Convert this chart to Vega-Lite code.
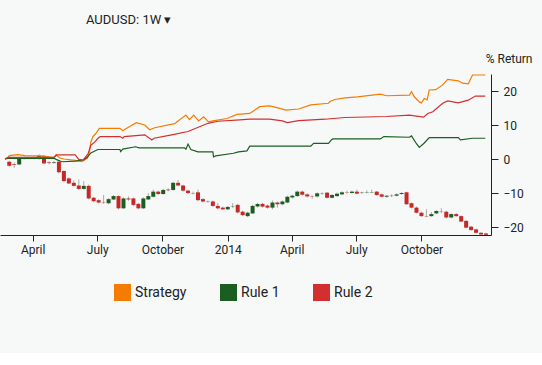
{
  "$schema": "https://vega.github.io/schema/vega-lite/v6.json",
  "width": 491,
  "height": 161,
  "autosize": {"type": "none"},
  "padding": {"left": 0, "top": 74, "right": 51, "bottom": 118},
  "background": "#f7f9f9",
  "title": {"text": "AUDUSD: 1W ▾", "anchor": "start", "frame": "group", "dx": 86, "offset": 0, "dy": -19, "fontSize": 13, "fontWeight": "normal", "color": "#222222", "font": "Roboto", "baseline": "middle"},
  "datasets": {
    "candles": [
      {"date": "2013-02-27", "open": -0.8, "close": -2.0, "high": -0.5, "low": -2.3},
      {"date": "2013-03-06", "open": -1.5, "close": -1.7, "high": -1.0, "low": -2.6},
      {"date": "2013-03-13", "open": -1.6, "close": 0.2, "high": 0.4, "low": -1.8},
      {"date": "2013-03-20", "open": 0.2, "close": 0.1, "high": 0.5, "low": -0.2},
      {"date": "2013-03-27", "open": 0.1, "close": 0.3, "high": 0.6, "low": -0.1},
      {"date": "2013-04-03", "open": 0.3, "close": 0.2, "high": 0.6, "low": -0.1},
      {"date": "2013-04-10", "open": 0.0, "close": 0.9, "high": 1.4, "low": -0.2},
      {"date": "2013-04-17", "open": 0.9, "close": -1.3, "high": 1.2, "low": -1.5},
      {"date": "2013-04-24", "open": -1.0, "close": -1.2, "high": -0.7, "low": -1.6},
      {"date": "2013-05-01", "open": -1.2, "close": -1.0, "high": -0.6, "low": -1.4},
      {"date": "2013-05-08", "open": -0.8, "close": -3.9, "high": -0.5, "low": -4.2},
      {"date": "2013-05-15", "open": -3.5, "close": -6.5, "high": -3.3, "low": -6.8},
      {"date": "2013-05-22", "open": -5.7, "close": -7.2, "high": -5.4, "low": -7.4},
      {"date": "2013-05-29", "open": -7.0, "close": -7.9, "high": -6.3, "low": -8.2},
      {"date": "2013-06-05", "open": -7.8, "close": -8.8, "high": -6.0, "low": -9.1},
      {"date": "2013-06-12", "open": -8.8, "close": -7.9, "high": -6.5, "low": -9.0},
      {"date": "2013-06-19", "open": -7.9, "close": -11.6, "high": -7.5, "low": -11.9},
      {"date": "2013-06-26", "open": -11.4, "close": -12.4, "high": -11.1, "low": -12.7},
      {"date": "2013-07-03", "open": -12.1, "close": -12.8, "high": -11.8, "low": -13.1},
      {"date": "2013-07-10", "open": -12.8, "close": -12.9, "high": -10.6, "low": -13.2},
      {"date": "2013-07-17", "open": -13.0, "close": -11.8, "high": -11.5, "low": -13.3},
      {"date": "2013-07-24", "open": -11.9, "close": -10.9, "high": -10.6, "low": -12.1},
      {"date": "2013-07-31", "open": -10.9, "close": -14.5, "high": -10.7, "low": -14.8},
      {"date": "2013-08-07", "open": -14.5, "close": -11.6, "high": -11.3, "low": -14.7},
      {"date": "2013-08-14", "open": -11.6, "close": -11.9, "high": -11.0, "low": -12.3},
      {"date": "2013-08-21", "open": -11.6, "close": -13.5, "high": -11.3, "low": -13.8},
      {"date": "2013-08-28", "open": -13.2, "close": -14.5, "high": -12.9, "low": -14.8},
      {"date": "2013-09-04", "open": -14.5, "close": -11.6, "high": -11.3, "low": -14.7},
      {"date": "2013-09-11", "open": -11.9, "close": -10.9, "high": -10.0, "low": -12.1},
      {"date": "2013-09-18", "open": -11.1, "close": -9.6, "high": -9.0, "low": -11.3},
      {"date": "2013-09-25", "open": -9.6, "close": -10.3, "high": -9.3, "low": -10.6},
      {"date": "2013-10-02", "open": -10.3, "close": -9.1, "high": -8.8, "low": -10.5},
      {"date": "2013-10-09", "open": -9.0, "close": -9.2, "high": -8.6, "low": -9.5},
      {"date": "2013-10-16", "open": -9.1, "close": -7.0, "high": -6.8, "low": -9.3},
      {"date": "2013-10-23", "open": -7.0, "close": -7.8, "high": -6.2, "low": -8.0},
      {"date": "2013-10-30", "open": -7.8, "close": -9.3, "high": -7.6, "low": -9.6},
      {"date": "2013-11-06", "open": -9.3, "close": -10.0, "high": -9.0, "low": -10.3},
      {"date": "2013-11-13", "open": -10.0, "close": -10.1, "high": -9.6, "low": -10.4},
      {"date": "2013-11-20", "open": -9.8, "close": -12.1, "high": -9.0, "low": -12.4},
      {"date": "2013-11-27", "open": -11.8, "close": -12.5, "high": -11.5, "low": -12.8},
      {"date": "2013-12-04", "open": -12.5, "close": -12.6, "high": -12.2, "low": -12.9},
      {"date": "2013-12-11", "open": -12.5, "close": -13.8, "high": -12.2, "low": -14.1},
      {"date": "2013-12-18", "open": -13.8, "close": -14.5, "high": -13.0, "low": -14.8},
      {"date": "2013-12-25", "open": -14.3, "close": -14.8, "high": -14.0, "low": -15.0},
      {"date": "2014-01-01", "open": -14.8, "close": -14.1, "high": -13.8, "low": -15.0},
      {"date": "2014-01-08", "open": -14.1, "close": -14.0, "high": -13.0, "low": -14.4},
      {"date": "2014-01-15", "open": -13.5, "close": -15.7, "high": -13.2, "low": -16.0},
      {"date": "2014-01-22", "open": -15.5, "close": -16.5, "high": -15.2, "low": -16.8},
      {"date": "2014-01-29", "open": -16.8, "close": -15.8, "high": -15.5, "low": -17.1},
      {"date": "2014-02-05", "open": -16.0, "close": -13.8, "high": -13.5, "low": -16.2},
      {"date": "2014-02-12", "open": -14.0, "close": -13.2, "high": -12.9, "low": -14.3},
      {"date": "2014-02-19", "open": -13.2, "close": -14.0, "high": -12.9, "low": -14.3},
      {"date": "2014-02-26", "open": -13.7, "close": -14.3, "high": -13.4, "low": -14.6},
      {"date": "2014-03-05", "open": -14.3, "close": -12.8, "high": -12.2, "low": -14.8},
      {"date": "2014-03-12", "open": -12.8, "close": -13.3, "high": -12.5, "low": -14.3},
      {"date": "2014-03-19", "open": -13.3, "close": -12.5, "high": -12.2, "low": -13.6},
      {"date": "2014-03-26", "open": -12.8, "close": -11.1, "high": -10.8, "low": -13.0},
      {"date": "2014-04-02", "open": -11.3, "close": -10.8, "high": -10.5, "low": -11.6},
      {"date": "2014-04-09", "open": -10.9, "close": -9.6, "high": -9.3, "low": -11.1},
      {"date": "2014-04-16", "open": -9.6, "close": -10.5, "high": -9.3, "low": -10.8},
      {"date": "2014-04-23", "open": -10.4, "close": -11.0, "high": -10.1, "low": -11.3},
      {"date": "2014-04-30", "open": -11.0, "close": -11.1, "high": -10.7, "low": -11.7},
      {"date": "2014-05-07", "open": -11.0, "close": -10.1, "high": -9.8, "low": -11.3},
      {"date": "2014-05-14", "open": -10.1, "close": -10.2, "high": -9.8, "low": -10.5},
      {"date": "2014-05-21", "open": -9.9, "close": -11.4, "high": -9.7, "low": -11.6},
      {"date": "2014-05-28", "open": -11.4, "close": -10.6, "high": -10.3, "low": -11.6},
      {"date": "2014-06-04", "open": -10.9, "close": -10.2, "high": -9.9, "low": -11.1},
      {"date": "2014-06-11", "open": -10.4, "close": -9.8, "high": -9.5, "low": -10.6},
      {"date": "2014-06-18", "open": -9.8, "close": -9.9, "high": -9.3, "low": -10.2},
      {"date": "2014-06-25", "open": -10.0, "close": -9.6, "high": -9.3, "low": -10.2},
      {"date": "2014-07-02", "open": -9.6, "close": -10.2, "high": -9.0, "low": -10.4},
      {"date": "2014-07-09", "open": -10.0, "close": -9.9, "high": -9.6, "low": -10.3},
      {"date": "2014-07-16", "open": -9.9, "close": -9.8, "high": -9.2, "low": -10.1},
      {"date": "2014-07-23", "open": -9.8, "close": -9.7, "high": -9.0, "low": -10.0},
      {"date": "2014-07-30", "open": -9.6, "close": -10.6, "high": -9.4, "low": -10.8},
      {"date": "2014-08-06", "open": -10.4, "close": -11.1, "high": -10.2, "low": -11.3},
      {"date": "2014-08-13", "open": -11.1, "close": -10.8, "high": -10.6, "low": -11.4},
      {"date": "2014-08-20", "open": -10.8, "close": -10.9, "high": -10.4, "low": -11.2},
      {"date": "2014-08-27", "open": -10.8, "close": -10.4, "high": -10.1, "low": -11.0},
      {"date": "2014-09-03", "open": -10.3, "close": -10.0, "high": -9.8, "low": -10.5},
      {"date": "2014-09-10", "open": -9.8, "close": -13.3, "high": -9.6, "low": -13.5},
      {"date": "2014-09-17", "open": -13.0, "close": -14.3, "high": -12.8, "low": -14.5},
      {"date": "2014-09-24", "open": -14.3, "close": -15.8, "high": -14.0, "low": -16.0},
      {"date": "2014-10-01", "open": -15.8, "close": -16.8, "high": -15.5, "low": -17.0},
      {"date": "2014-10-08", "open": -16.8, "close": -16.9, "high": -14.8, "low": -17.1},
      {"date": "2014-10-15", "open": -16.8, "close": -16.2, "high": -15.6, "low": -17.0},
      {"date": "2014-10-22", "open": -16.0, "close": -15.3, "high": -15.0, "low": -16.2},
      {"date": "2014-10-29", "open": -15.5, "close": -15.6, "high": -14.5, "low": -15.9},
      {"date": "2014-11-05", "open": -15.5, "close": -17.2, "high": -15.2, "low": -17.5},
      {"date": "2014-11-12", "open": -17.2, "close": -16.2, "high": -16.0, "low": -17.4},
      {"date": "2014-11-19", "open": -16.2, "close": -16.8, "high": -15.9, "low": -17.0},
      {"date": "2014-11-26", "open": -16.8, "close": -18.4, "high": -16.6, "low": -18.6},
      {"date": "2014-12-03", "open": -18.2, "close": -20.2, "high": -18.0, "low": -20.4},
      {"date": "2014-12-10", "open": -19.9, "close": -20.9, "high": -19.7, "low": -21.1},
      {"date": "2014-12-17", "open": -20.7, "close": -21.7, "high": -20.5, "low": -21.9},
      {"date": "2014-12-24", "open": -21.7, "close": -22.2, "high": -21.5, "low": -22.3},
      {"date": "2014-12-31", "open": -21.9, "close": -22.3, "high": -21.7, "low": -22.35}
    ],
    "lines": [
      {"date": "2013-02-21", "series": "Strategy", "value": 0.0},
      {"date": "2013-02-25", "series": "Strategy", "value": 0.2},
      {"date": "2013-02-27", "series": "Strategy", "value": 1.0},
      {"date": "2013-03-11", "series": "Strategy", "value": 1.3},
      {"date": "2013-03-21", "series": "Strategy", "value": 1.0},
      {"date": "2013-04-13", "series": "Strategy", "value": 0.9},
      {"date": "2013-05-01", "series": "Strategy", "value": 0.4},
      {"date": "2013-05-04", "series": "Strategy", "value": 1.3},
      {"date": "2013-05-09", "series": "Strategy", "value": 0.3},
      {"date": "2013-05-15", "series": "Strategy", "value": 0.0},
      {"date": "2013-05-31", "series": "Strategy", "value": -0.4},
      {"date": "2013-06-09", "series": "Strategy", "value": -0.8},
      {"date": "2013-06-11", "series": "Strategy", "value": -0.6},
      {"date": "2013-06-17", "series": "Strategy", "value": 0.2},
      {"date": "2013-06-20", "series": "Strategy", "value": 2.0},
      {"date": "2013-06-22", "series": "Strategy", "value": 5.0},
      {"date": "2013-06-25", "series": "Strategy", "value": 6.6},
      {"date": "2013-06-29", "series": "Strategy", "value": 7.5},
      {"date": "2013-07-04", "series": "Strategy", "value": 9.0},
      {"date": "2013-08-02", "series": "Strategy", "value": 9.0},
      {"date": "2013-08-06", "series": "Strategy", "value": 8.3},
      {"date": "2013-08-08", "series": "Strategy", "value": 8.6},
      {"date": "2013-08-25", "series": "Strategy", "value": 10.7},
      {"date": "2013-09-06", "series": "Strategy", "value": 10.0},
      {"date": "2013-09-13", "series": "Strategy", "value": 8.6},
      {"date": "2013-09-20", "series": "Strategy", "value": 9.2},
      {"date": "2013-10-18", "series": "Strategy", "value": 10.4},
      {"date": "2013-11-03", "series": "Strategy", "value": 12.9},
      {"date": "2013-11-08", "series": "Strategy", "value": 11.6},
      {"date": "2013-11-14", "series": "Strategy", "value": 12.9},
      {"date": "2013-11-21", "series": "Strategy", "value": 11.2},
      {"date": "2013-11-28", "series": "Strategy", "value": 12.4},
      {"date": "2013-12-05", "series": "Strategy", "value": 10.9},
      {"date": "2013-12-11", "series": "Strategy", "value": 11.2},
      {"date": "2013-12-31", "series": "Strategy", "value": 11.9},
      {"date": "2014-01-14", "series": "Strategy", "value": 13.1},
      {"date": "2014-02-01", "series": "Strategy", "value": 13.4},
      {"date": "2014-02-15", "series": "Strategy", "value": 15.4},
      {"date": "2014-03-01", "series": "Strategy", "value": 15.6},
      {"date": "2014-03-10", "series": "Strategy", "value": 15.2},
      {"date": "2014-03-24", "series": "Strategy", "value": 14.4},
      {"date": "2014-04-11", "series": "Strategy", "value": 14.7},
      {"date": "2014-04-28", "series": "Strategy", "value": 15.9},
      {"date": "2014-05-23", "series": "Strategy", "value": 16.4},
      {"date": "2014-05-25", "series": "Strategy", "value": 16.9},
      {"date": "2014-06-01", "series": "Strategy", "value": 17.5},
      {"date": "2014-06-15", "series": "Strategy", "value": 18.0},
      {"date": "2014-07-03", "series": "Strategy", "value": 18.3},
      {"date": "2014-08-04", "series": "Strategy", "value": 19.1},
      {"date": "2014-08-13", "series": "Strategy", "value": 18.6},
      {"date": "2014-09-14", "series": "Strategy", "value": 18.8},
      {"date": "2014-09-17", "series": "Strategy", "value": 19.8},
      {"date": "2014-09-21", "series": "Strategy", "value": 18.3},
      {"date": "2014-09-28", "series": "Strategy", "value": 16.8},
      {"date": "2014-10-01", "series": "Strategy", "value": 16.5},
      {"date": "2014-10-05", "series": "Strategy", "value": 17.8},
      {"date": "2014-10-09", "series": "Strategy", "value": 17.4},
      {"date": "2014-10-12", "series": "Strategy", "value": 20.3},
      {"date": "2014-10-21", "series": "Strategy", "value": 20.4},
      {"date": "2014-10-31", "series": "Strategy", "value": 21.8},
      {"date": "2014-11-07", "series": "Strategy", "value": 23.4},
      {"date": "2014-11-22", "series": "Strategy", "value": 23.0},
      {"date": "2014-11-28", "series": "Strategy", "value": 22.3},
      {"date": "2014-12-06", "series": "Strategy", "value": 22.1},
      {"date": "2014-12-12", "series": "Strategy", "value": 24.7},
      {"date": "2014-12-30", "series": "Strategy", "value": 24.7},
      {"date": "2013-02-21", "series": "Rule 1", "value": 0.0},
      {"date": "2013-02-25", "series": "Rule 1", "value": 0.2},
      {"date": "2013-05-01", "series": "Rule 1", "value": 0.2},
      {"date": "2013-05-04", "series": "Rule 1", "value": -0.1},
      {"date": "2013-05-12", "series": "Rule 1", "value": -0.8},
      {"date": "2013-05-31", "series": "Rule 1", "value": -0.6},
      {"date": "2013-06-11", "series": "Rule 1", "value": -0.3},
      {"date": "2013-06-17", "series": "Rule 1", "value": 0.5},
      {"date": "2013-06-22", "series": "Rule 1", "value": 1.8},
      {"date": "2013-07-02", "series": "Rule 1", "value": 2.8},
      {"date": "2013-08-02", "series": "Rule 1", "value": 2.8},
      {"date": "2013-08-03", "series": "Rule 1", "value": 2.2},
      {"date": "2013-08-06", "series": "Rule 1", "value": 2.9},
      {"date": "2013-08-24", "series": "Rule 1", "value": 3.6},
      {"date": "2013-08-29", "series": "Rule 1", "value": 3.3},
      {"date": "2013-11-01", "series": "Rule 1", "value": 3.3},
      {"date": "2013-11-03", "series": "Rule 1", "value": 2.9},
      {"date": "2013-11-06", "series": "Rule 1", "value": 4.4},
      {"date": "2013-11-10", "series": "Rule 1", "value": 2.8},
      {"date": "2013-11-20", "series": "Rule 1", "value": 2.1},
      {"date": "2013-12-11", "series": "Rule 1", "value": 2.1},
      {"date": "2013-12-12", "series": "Rule 1", "value": 0.6},
      {"date": "2013-12-15", "series": "Rule 1", "value": 0.9},
      {"date": "2014-01-09", "series": "Rule 1", "value": 1.7},
      {"date": "2014-01-16", "series": "Rule 1", "value": 2.1},
      {"date": "2014-01-28", "series": "Rule 1", "value": 2.4},
      {"date": "2014-02-01", "series": "Rule 1", "value": 3.8},
      {"date": "2014-04-28", "series": "Rule 1", "value": 3.8},
      {"date": "2014-05-02", "series": "Rule 1", "value": 4.6},
      {"date": "2014-05-23", "series": "Rule 1", "value": 4.6},
      {"date": "2014-05-27", "series": "Rule 1", "value": 5.6},
      {"date": "2014-05-29", "series": "Rule 1", "value": 5.9},
      {"date": "2014-08-04", "series": "Rule 1", "value": 5.9},
      {"date": "2014-08-09", "series": "Rule 1", "value": 6.6},
      {"date": "2014-09-14", "series": "Rule 1", "value": 6.4},
      {"date": "2014-09-17", "series": "Rule 1", "value": 6.8},
      {"date": "2014-09-24", "series": "Rule 1", "value": 4.5},
      {"date": "2014-09-28", "series": "Rule 1", "value": 3.4},
      {"date": "2014-10-05", "series": "Rule 1", "value": 4.7},
      {"date": "2014-10-12", "series": "Rule 1", "value": 6.3},
      {"date": "2014-11-22", "series": "Rule 1", "value": 6.3},
      {"date": "2014-11-25", "series": "Rule 1", "value": 5.6},
      {"date": "2014-12-12", "series": "Rule 1", "value": 6.1},
      {"date": "2014-12-30", "series": "Rule 1", "value": 6.1},
      {"date": "2013-02-21", "series": "Rule 2", "value": 0.0},
      {"date": "2013-02-25", "series": "Rule 2", "value": 0.5},
      {"date": "2013-05-01", "series": "Rule 2", "value": 0.5},
      {"date": "2013-05-05", "series": "Rule 2", "value": 1.2},
      {"date": "2013-05-31", "series": "Rule 2", "value": 1.2},
      {"date": "2013-06-05", "series": "Rule 2", "value": -0.1},
      {"date": "2013-06-11", "series": "Rule 2", "value": -0.3},
      {"date": "2013-06-18", "series": "Rule 2", "value": 1.5},
      {"date": "2013-06-22", "series": "Rule 2", "value": 4.0},
      {"date": "2013-06-28", "series": "Rule 2", "value": 5.1},
      {"date": "2013-07-02", "series": "Rule 2", "value": 6.1},
      {"date": "2013-07-05", "series": "Rule 2", "value": 6.6},
      {"date": "2013-08-02", "series": "Rule 2", "value": 6.6},
      {"date": "2013-08-06", "series": "Rule 2", "value": 6.1},
      {"date": "2013-08-08", "series": "Rule 2", "value": 6.6},
      {"date": "2013-09-06", "series": "Rule 2", "value": 7.1},
      {"date": "2013-09-16", "series": "Rule 2", "value": 5.6},
      {"date": "2013-09-19", "series": "Rule 2", "value": 6.1},
      {"date": "2013-10-14", "series": "Rule 2", "value": 7.1},
      {"date": "2013-11-06", "series": "Rule 2", "value": 8.1},
      {"date": "2013-12-04", "series": "Rule 2", "value": 10.5},
      {"date": "2013-12-18", "series": "Rule 2", "value": 11.1},
      {"date": "2014-01-18", "series": "Rule 2", "value": 11.5},
      {"date": "2014-02-01", "series": "Rule 2", "value": 11.7},
      {"date": "2014-03-01", "series": "Rule 2", "value": 11.7},
      {"date": "2014-03-19", "series": "Rule 2", "value": 11.2},
      {"date": "2014-03-26", "series": "Rule 2", "value": 10.7},
      {"date": "2014-04-11", "series": "Rule 2", "value": 11.3},
      {"date": "2014-05-18", "series": "Rule 2", "value": 11.7},
      {"date": "2014-06-15", "series": "Rule 2", "value": 12.2},
      {"date": "2014-08-13", "series": "Rule 2", "value": 12.5},
      {"date": "2014-09-14", "series": "Rule 2", "value": 12.9},
      {"date": "2014-10-04", "series": "Rule 2", "value": 12.3},
      {"date": "2014-10-10", "series": "Rule 2", "value": 13.4},
      {"date": "2014-10-17", "series": "Rule 2", "value": 13.9},
      {"date": "2014-10-31", "series": "Rule 2", "value": 16.4},
      {"date": "2014-11-07", "series": "Rule 2", "value": 17.1},
      {"date": "2014-11-22", "series": "Rule 2", "value": 16.5},
      {"date": "2014-12-06", "series": "Rule 2", "value": 17.3},
      {"date": "2014-12-16", "series": "Rule 2", "value": 18.5},
      {"date": "2014-12-30", "series": "Rule 2", "value": 18.5}
    ]
  },
  "encoding": {
    "x": {
      "field": "date",
      "type": "temporal",
      "scale": {"type": "utc", "domain": ["2013-02-21", "2014-12-31"], "nice": false},
      "axis": {"title": null, "grid": false,
        "values": [
          {"year": 2013, "month": 4, "date": 1, "utc": true},
          {"year": 2013, "month": 7, "date": 1, "utc": true},
          {"year": 2013, "month": 10, "date": 1, "utc": true},
          {"year": 2014, "month": 1, "date": 1, "utc": true},
          {"year": 2014, "month": 4, "date": 1, "utc": true},
          {"year": 2014, "month": 7, "date": 1, "utc": true},
          {"year": 2014, "month": 10, "date": 1, "utc": true}
        ],
        "tickSize": 6, "labelPadding": 3, "labelFontSize": 12, "labelFlush": false, "labelOverlap": false, "domainColor": "#222222", "tickColor": "#222222", "labelColor": "#222222"}
    }
  },
  "layer": [
    {
      "data": {"name": "candles"},
      "mark": {"type": "rule", "color": "#a8a8a8", "strokeWidth": 1},
      "encoding": {
        "y": {
          "field": "low",
          "type": "quantitative",
          "scale": {"domain": [-22.35, 25.0], "nice": false, "zero": false},
          "axis": {"orient": "right", "values": [-20, -10, 0, 10, 20], "grid": false, "tickSize": 7, "labelPadding": 5, "labelFontSize": 12, "domainColor": "#222222", "tickColor": "#222222", "labelColor": "#222222", "title": "% Return", "titleAngle": 0, "titleAlign": "right", "titleBaseline": "alphabetic", "titleX": 41, "titleY": -12, "titleFontSize": 12, "titleFontWeight": "normal", "titleColor": "#222222"}
        },
        "y2": {"field": "high"}
      }
    },
    {
      "data": {"name": "candles"},
      "mark": {"type": "bar", "size": 4},
      "encoding": {
        "y": {"field": "open", "type": "quantitative"},
        "y2": {"field": "close"},
        "color": {"condition": {"test": "datum.close < datum.open", "value": "#c62828"}, "value": "#1b5e20"}
      }
    },
    {
      "data": {"name": "lines"},
      "mark": {"type": "line", "strokeWidth": 1.2},
      "encoding": {
        "y": {"field": "value", "type": "quantitative"},
        "color": {
          "field": "series",
          "type": "nominal",
          "scale": {"domain": ["Strategy", "Rule 1", "Rule 2"], "range": ["#f57c00", "#1b5e20", "#d32f2f"]},
          "legend": {"orient": "none", "legendX": 114, "legendY": 210, "direction": "horizontal", "title": null, "symbolType": "square", "symbolSize": 289, "symbolStrokeWidth": 0, "labelFontSize": 14, "labelOffset": 4, "columnPadding": 33, "labelColor": "#222222",
            "encode": {"symbols": {"update": {"fill": {"scale": "color", "field": "value"}, "fillOpacity": {"value": 1}, "strokeWidth": {"value": 0}}}}}
        }
      }
    }
  ],
  "config": {
    "font": "Roboto",
    "view": {"stroke": null},
    "axis": {"labelFont": "Roboto", "titleFont": "Roboto"},
    "legend": {"labelFont": "Roboto", "padding": 0}
  }
}
